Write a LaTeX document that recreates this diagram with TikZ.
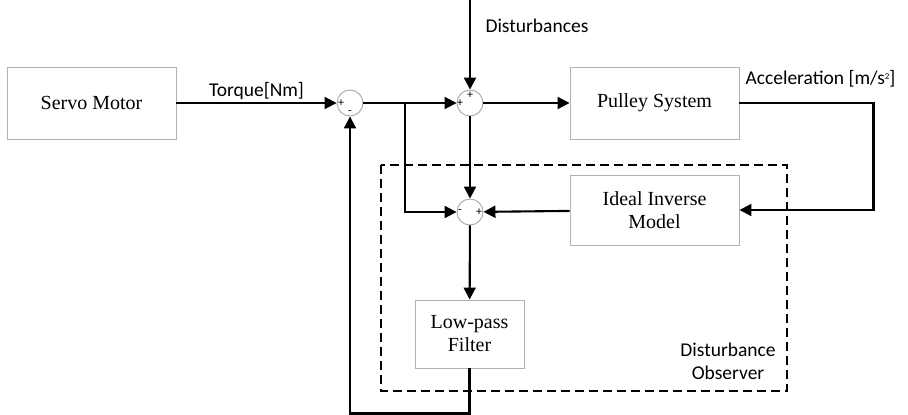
\documentclass[tikz,border=0pt]{standalone}
\usepackage{fontspec}
\setmainfont{Liberation Serif}
\newfontfamily\labelfont{Carlito}
\usetikzlibrary{positioning,arrows.meta}
\tikzset{
        block/.style={draw=black!30, line width=0.9pt, minimum width=169pt, minimum height=72pt, align=center, font=\fontsize{20}{23}\selectfont},
        sum/.style={circle, draw=black!35, line width=0.9pt, minimum size=26pt, inner sep=0pt},
        sign/.style={font=\labelfont\fontsize{12}{12}\selectfont, inner sep=0pt},
        wire/.style={line width=2.1pt, -{Triangle[length=12pt, width=12pt]}},
        txt/.style={font=\labelfont\fontsize{19.5}{23}\selectfont, align=center},
        observer/.style={draw=black, line width=1.5pt, dash pattern=on 9pt off 5pt}
          }

\begin{document}
\begin{tikzpicture}[x=1pt, y=-1pt]
        \useasboundingbox (0,0) rectangle (908,415);
        % blocks
        \node[block] (servo) at (91.5,103) {Servo Motor};
        \node[block] (pulley) at (654.5,103) {Pulley System};
        \node[block, minimum height=70pt] (inverse) at (654.5,210) {Ideal Inverse\\Model};
        \node[block, minimum width=109pt, minimum height=68pt] (filter) at (469.5,334) {Low-pass\\Filter};
        % summing points
        \node[sum] (s1) at (350,103) {};
        \node[sum] (s2) at (470,103) {};
        \node[sum] (s3) at (470,212) {};
        \node[sign] (s1a) at (341,103) {+};
        \node[sign] (s1b) at (350,113) {-};
        \node[sign] (s2a) at (460,103) {+};
        \node[sign] (s2b) at (470,95) {+};
        \node[sign] (s3a) at (460,212) {-};
        \node[sign] (s3b) at (479,212) {+};
        \coordinate (dist) at (470,0);
        \coordinate (branch) at (405,103);
        % observer frame
        \draw[observer] (381,165) rectangle (787,391);
        % labels
        \node[txt, anchor=west] (distlabel) at (482,26) {Disturbances};
        \node[txt, anchor=west] (acclabel) at (742,79) {Acceleration [m/s\raisebox{0.55ex}{\fontsize{9}{9}\selectfont 2}]};
        \node[txt] (obslabel) at (728,361) {Disturbance\\Observer};
        % signals
        \draw[wire] (servo) -- node[txt, above=-1pt] (torque) {Torque[Nm]} (s1);
        \draw[wire] (s1) -- (s2);
        \draw[wire] (dist) -- (s2);
        \draw[wire] (s2) -- (pulley);
        \draw[wire] (pulley.east) -- ++(134,0) |- (inverse.east);
        \draw[wire] (inverse) -- (s3);
        \draw[wire] (branch) |- (s3);
        \draw[wire] (s2) -- (s3);
        \draw[wire] (s3) -- (filter);
        \draw[wire] (filter.south) -- ++(0,45) -| (s1.south);
\end{tikzpicture}
\end{document}
